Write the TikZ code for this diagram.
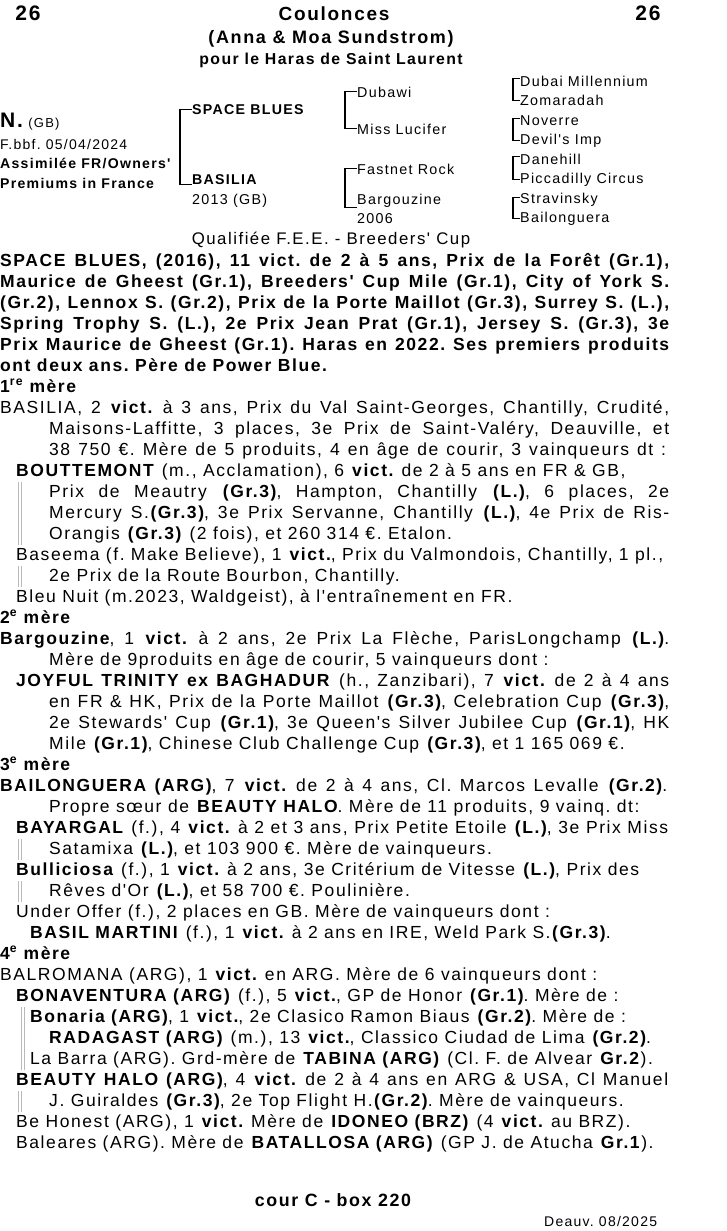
\documentclass[tikz,border=0pt]{standalone}
\usepackage{fontspec}
\setmainfont{Liberation Sans}[LetterSpace=9, Ligatures=TeXOff]
\newcommand{\bodysize}{\fontsize{17.5}{21}\selectfont}
\newcommand{\jline}[2]{\makebox[#1pt][s]{#2}}
\frenchspacing
\begin{document}
\begin{tikzpicture}[x=1pt,y=-1pt]
\tikzstyle{every node}+=[inner sep=0pt, anchor=base west, font=\bodysize]
\tikzstyle{hdr}=[anchor=base, font=\bfseries\fontsize{19}{22}\selectfont]
\tikzstyle{ped}=[font=\fontsize{14.3}{18}\selectfont]
\tikzstyle{pedbold}=[font=\bfseries\fontsize{14.2}{18}\selectfont]
\tikzstyle{mere}=[font=\bfseries\bodysize]
\tikzstyle{brk}=[line width=1.1pt]
\tikzstyle{brkbar}=[line width=2.4pt]
\tikzstyle{bar}=[gray!55, line width=0.9pt]
\useasboundingbox (0,0) rectangle (726,1231);
% header
\node[hdr, font=\bfseries\fontsize{21}{24}\selectfont] (lot1) at (28,21) {26};
\node[hdr, font=\bfseries\fontsize{21}{24}\selectfont] (lot2) at (648,21) {26};
\node[hdr] (vendor) at (334,21) {Coulonces};
\node[hdr, font=\bfseries\fontsize{18}{22}\selectfont] (owners) at (331,44) {(Anna \& Moa Sundstrom)};
\node[hdr, font=\bfseries\fontsize{15.8}{20}\selectfont] (haras) at (331,64) {pour le Haras de Saint Laurent};
% the foal
\node[font=\bfseries\fontsize{21}{24}\selectfont] (foal) at (0,127) {N.};
\node[font=\fontsize{13}{16}\selectfont] (foalgb) at ([xshift=5pt]foal.base east) {(GB)};
\node[font=\fontsize{14}{17}\selectfont] (birth) at (0,149) {F.bbf. 05/04/2024};
\node[font=\bfseries\fontsize{14.1}{17}\selectfont] (assim1) at (0,168) {Assimilée FR/Owners'};
\node[font=\bfseries\fontsize{14.1}{17}\selectfont] (assim2) at (0,188) {Premiums in France};
% pedigree
\node[pedbold] (sire) at (192,114) {SPACE BLUES};
\node[pedbold] (dam) at (192,184) {BASILIA};
\node[ped] (damyr) at (192,204) {2013 (GB)};
\node[ped] (ss) at (357,97) {Dubawi};
\node[ped] (sd) at (357,134) {Miss Lucifer};
\node[ped] (ds) at (357,174) {Fastnet Rock};
\node[ped] (dd) at (357,204) {Bargouzine};
\node[ped] (ddyr) at (357,223) {2006};
\node[ped] (sss) at (520,86) {Dubai Millennium};
\node[ped] (ssd) at (520,105.5) {Zomaradah};
\node[ped] (sds) at (520,125) {Noverre};
\node[ped] (sdd) at (520,144.5) {Devil's Imp};
\node[ped] (dss) at (520,164) {Danehill};
\node[ped] (dsd) at (520,183.5) {Piccadilly Circus};
\node[ped] (dds) at (520,203) {Stravinsky};
\node[ped] (ddd) at (520,222.5) {Bailonguera};
\draw[brk] (sire.west) -- ++(-12,0) |- (dam.south west);
\draw[brk] (ss.west) -- ++(-12,0) |- (sd.west);
\draw[brk] (ds.west) -- ++(-12,0) |- (dd.south west);
\draw[brk] ([yshift=2pt]sss.west) -- ++(-7,0) coordinate (k1) |- (ssd.west);
\draw[brkbar] (k1) -- (k1 |- ssd.west);
\draw[brk] ([yshift=2pt]sds.west) -- ++(-7,0) coordinate (k2) |- (sdd.west);
\draw[brkbar] (k2) -- (k2 |- sdd.west);
\draw[brk] ([yshift=2pt]dss.west) -- ++(-7,0) coordinate (k3) |- (dsd.west);
\draw[brkbar] (k3) -- (k3 |- dsd.west);
\draw[brk] ([yshift=2pt]dds.west) -- ++(-7,0) coordinate (k4) |- (ddd.west);
\draw[brkbar] (k4) -- (k4 |- ddd.west);
\node[anchor=base, font=\fontsize{16.8}{20}\selectfont] (qual) at (331,244) {Qualifiée F.E.E. - Breeders' Cup};
% sire paragraph
\node[mere] (p1) at (0,266) {\jline{669}{SPACE BLUES, (2016), 11 vict. de 2 à 5 ans, Prix de la Forêt (Gr.1),}};
\node[mere] (p2) at (0,287) {\jline{669}{Maurice de Gheest (Gr.1), Breeders' Cup Mile (Gr.1), City of York S.}};
\node[mere] (p3) at (0,308) {\jline{669}{(Gr.2), Lennox S. (Gr.2), Prix de la Porte Maillot (Gr.3), Surrey S. (L.),}};
\node[mere] (p4) at (0,329) {\jline{669}{Spring Trophy S. (L.), 2e Prix Jean Prat (Gr.1), Jersey S. (Gr.3), 3e}};
\node[mere] (p5) at (0,350) {\jline{669}{Prix Maurice de Gheest (Gr.1). Haras en 2022. Ses premiers produits}};
\node[mere] (p6) at (0,371) {ont deux ans. Père de Power Blue.};
% 1re mere
\node[mere] (m1) at (0,392) {1\textsuperscript{re} mère};
\node (l00) at (0,413) {\jline{669}{BASILIA, 2 \textbf{vict.} à 3 ans, Prix du Val Saint-Georges, Chantilly, Crudité,}};
\node (l01) at (49,434) {\jline{620}{Maisons-Laffitte, 3 places, 3e Prix de Saint-Valéry, Deauville, et}};
\node (l02) at (49,455) {\jline{617}{38 750 €. Mère de 5 produits, 4 en âge de courir, 3 vainqueurs dt :}};
\node (l03) at (16,476) {\textbf{BOUTTEMONT} (m., Acclamation), 6 \textbf{vict.} de 2 à 5 ans en FR \& GB,};
\node (l04) at (49,497) {\jline{620}{Prix de Meautry \textbf{(Gr.3)}, Hampton, Chantilly \textbf{(L.)}, 6 places, 2e}};
\node (l05) at (49,518) {\jline{620}{Mercury S.\textbf{(Gr.3)}, 3e Prix Servanne, Chantilly \textbf{(L.)}, 4e Prix de Ris-}};
\node (l06) at (49,539) {Orangis \textbf{(Gr.3)} (2 fois), et 260 314 €. Etalon.};
\node (l07) at (16,560) {\jline{647}{Baseema (f. Make Believe), 1 \textbf{vict.}, Prix du Valmondois, Chantilly, 1 pl.,}};
\node (l08) at (49,581) {2e Prix de la Route Bourbon, Chantilly.};
\node (l09) at (16,602) {Bleu Nuit (m.2023, Waldgeist), à l'entraînement en FR.};
\draw[bar] (18,482) -- (18,545) (21,482) -- (21,545);
\draw[bar] (18,566) -- (18,587) (21,566) -- (21,587);
% 2e mere
\node[mere] (m2) at (0,623) {2\textsuperscript{e} mère};
\node (l11) at (0,644) {\jline{669}{\textbf{Bargouzine}, 1 \textbf{vict.} à 2 ans, 2e Prix La Flèche, ParisLongchamp \textbf{(L.)}.}};
\node (l12) at (49,665) {Mère de 9produits en âge de courir, 5 vainqueurs dont :};
\node (l13) at (16,686) {\jline{653}{\textbf{JOYFUL TRINITY ex BAGHADUR} (h., Zanzibari), 7 \textbf{vict.} de 2 à 4 ans}};
\node (l14) at (49,707) {\jline{620}{en FR \& HK, Prix de la Porte Maillot \textbf{(Gr.3)}, Celebration Cup \textbf{(Gr.3)},}};
\node (l15) at (49,728) {\jline{620}{2e Stewards' Cup \textbf{(Gr.1)}, 3e Queen's Silver Jubilee Cup \textbf{(Gr.1)}, HK}};
\node (l16) at (49,749) {Mile \textbf{(Gr.1)}, Chinese Club Challenge Cup \textbf{(Gr.3)}, et 1 165 069 €.};
% 3e mere
\node[mere] (m3) at (0,770) {3\textsuperscript{e} mère};
\node (l18) at (0,791) {\jline{667}{\textbf{BAILONGUERA (ARG)}, 7 \textbf{vict.} de 2 à 4 ans, Cl. Marcos Levalle \textbf{(Gr.2)}.}};
\node (l19) at (49,812) {Propre sœur de \textbf{BEAUTY HALO}. Mère de 11 produits, 9 vainq. dt:};
\node (l20) at (16,833) {\jline{652}{\textbf{BAYARGAL} (f.), 4 \textbf{vict.} à 2 et 3 ans, Prix Petite Etoile \textbf{(L.)}, 3e Prix Miss}};
\node (l21) at (49,854) {Satamixa \textbf{(L.)}, et 103 900 €. Mère de vainqueurs.};
\node (l22) at (16,875) {\textbf{Bulliciosa} (f.), 1 \textbf{vict.} à 2 ans, 3e Critérium de Vitesse \textbf{(L.)}, Prix des};
\node (l23) at (49,896) {Rêves d'Or \textbf{(L.)}, et 58 700 €. Poulinière.};
\node (l24) at (16,917) {Under Offer (f.), 2 places en GB. Mère de vainqueurs dont :};
\node (l25) at (30,938) {\textbf{BASIL MARTINI} (f.), 1 \textbf{vict.} à 2 ans en IRE, Weld Park S.\textbf{(Gr.3)}.};
\draw[bar] (18,839) -- (18,860) (21,839) -- (21,860);
\draw[bar] (18,881) -- (18,902) (21,881) -- (21,902);
% 4e mere
\node[mere] (m4) at (0,959) {4\textsuperscript{e} mère};
\node (l27) at (0,980) {BALROMANA (ARG), 1 \textbf{vict.} en ARG. Mère de 6 vainqueurs dont :};
\node (l28) at (16,1001) {\textbf{BONAVENTURA (ARG)} (f.), 5 \textbf{vict.}, GP de Honor \textbf{(Gr.1)}. Mère de :};
\node (l29) at (30,1022) {\textbf{Bonaria (ARG)}, 1 \textbf{vict.}, 2e Clasico Ramon Biaus \textbf{(Gr.2)}. Mère de :};
\node (l30) at (49,1043) {\textbf{RADAGAST (ARG)} (m.), 13 \textbf{vict.}, Classico Ciudad de Lima \textbf{(Gr.2)}.};
\node (l31) at (30,1064) {La Barra (ARG). Grd-mère de \textbf{TABINA (ARG)} (Cl. F. de Alvear \textbf{Gr.2}).};
\node (l32) at (16,1085) {\jline{652}{\textbf{BEAUTY HALO (ARG)}, 4 \textbf{vict.} de 2 à 4 ans en ARG \& USA, Cl Manuel}};
\node (l33) at (49,1106) {J. Guiraldes \textbf{(Gr.3)}, 2e Top Flight H.\textbf{(Gr.2)}. Mère de vainqueurs.};
\node (l34) at (16,1127) {Be Honest (ARG), 1 \textbf{vict.} Mère de \textbf{IDONEO (BRZ)} (4 \textbf{vict.} au BRZ).};
\node (l35) at (16,1148) {Baleares (ARG). Mère de \textbf{BATALLOSA (ARG)} (GP J. de Atucha \textbf{Gr.1}).};
\draw[bar] (21,1007) -- (21,1070) (24,1007) -- (24,1070);
\draw[bar] (18,1091) -- (18,1112) (21,1091) -- (21,1112);
% footer
\node[hdr, font=\bfseries\fontsize{17.8}{21}\selectfont] (box) at (333,1206) {cour C - box 220};
\node[font=\fontsize{14}{17}\selectfont] (sale) at (544,1226) {Deauv. 08/2025};
\end{tikzpicture}
\end{document}
